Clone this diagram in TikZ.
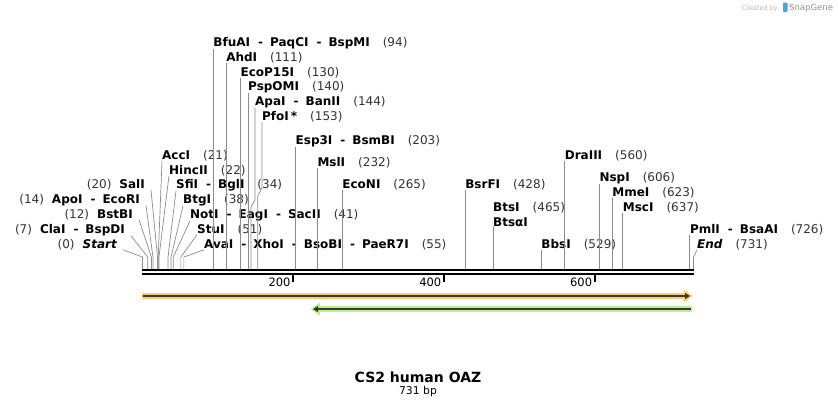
\documentclass[tikz,border=0pt]{standalone}
\usepackage{fontspec}
\setmainfont{DejaVu Sans}
\usetikzlibrary{arrows.meta}
\definecolor{leadgray}{HTML}{8C8C8C}
\definecolor{numgray}{HTML}{333333}
\definecolor{orangehl}{HTML}{FBCB74}
\definecolor{greenhl}{HTML}{B9F28C}
\definecolor{featline}{HTML}{3A3A30}
\definecolor{logogray}{HTML}{B4B4B4}
\definecolor{logoblue}{HTML}{4AA3DF}
\newcommand{\dsh}{\hspace{8pt}-\hspace{7pt}}
\newcommand{\pos}[1]{\hspace{13pt}{\mdseries\upshape\color{numgray}(#1)}}
\newcommand{\posl}[1]{{\mdseries\upshape\color{numgray}(#1)}\hspace{8pt}}
\tikzset{
  enz/.style={font=\bfseries\fontsize{12}{13}\selectfont, inner sep=0pt, anchor=base west},
  enzl/.style={enz, anchor=base east},
  leader/.style={draw=leadgray, line width=0.7pt},
  ticklbl/.style={font=\fontsize{11.5}{13}\selectfont, inner sep=0pt, anchor=base east}
}
\begin{document}
\begin{tikzpicture}[x=1pt,y=-1pt]
  \useasboundingbox (0,0) rectangle (838,408);
  % sites on the sequence
  \foreach \n in {0,7,12,14,20,21,22,34,38,41,51,55,94,111,130,140,144,153,203,232,265,428,465,529,560,606,623,637,726,731}
    \coordinate (s\n) at ({142.4+0.754*\n},269);

  % sequence bar and ruler
  \draw[line width=2pt] (142.4,270.2) -- (693.7,270.2);
  \draw[line width=2pt] (142.4,274.3) -- (693.7,274.3);
  \foreach \t in {200,400,600}{
    \draw[line width=1.6pt] ({142.4+0.754*\t},275) -- ++(0,7);
    \node[ticklbl] at ({142.4+0.754*\t-2.5},286) {\t};
  }

  % features
  \fill[orangehl] (142.4,293.2) rectangle (686,298.8);
  \fill[orangehl] (684,289.5) -- (692.5,296) -- (684,302.5) -- cycle;
  \draw[featline, line width=1.5pt, -{Triangle[length=5pt,width=6pt]}] (143,296) -- (690,296);
  \fill[greenhl] (318,306.3) rectangle (692,311.9);
  \fill[greenhl] (320,302.6) -- (310.5,309.1) -- (320,315.6) -- cycle;
  \draw[featline, line width=1.5pt, -{Triangle[length=5pt,width=6pt]}] (690.5,309.1) -- (313,309.1);

  % enzymes above the sequence
  \node[enz] (bfuai) at (s94 |- 0,46) {BfuAI\dsh PaqCI\dsh BspMI\pos{94}};
  \node[enz] (ahdi) at (s111 |- 0,61) {AhdI\pos{111}};
  \node[enz] (ecop) at (s130 |- 0,76) {EcoP15I\pos{130}};
  \node[enz] (pspomi) at (s140 |- 0,90) {PspOMI\pos{140}};
  \node[enz] (apai) at (255,105) {ApaI\dsh BanII\pos{144}};
  \node[enz] (pfoi) at (262,120) {PfoI\,*\pos{153}};
  \node[enz] (esp) at (s203 |- 0,144) {Esp3I\dsh BsmBI\pos{203}};
  \node[enz] (msli) at (s232 |- 0,166) {MslI\pos{232}};
  \node[enz] (econi) at (s265 |- 0,188) {EcoNI\pos{265}};
  \node[enz] (bsrfi) at (s428 |- 0,188) {BsrFI\pos{428}};
  \node[enz] (btsi) at (s465 |- 0,211) {BtsI\pos{465}};
  \node[enz] (btsai) at (s465 |- 0,226) {BtsαI};
  \node[enz] (bbsi) at (s529 |- 0,248) {BbsI\pos{529}};
  \node[enz] (draiii) at (s560 |- 0,159) {DraIII\pos{560}};
  \node[enz] (nspi) at (s606 |- 0,181) {NspI\pos{606}};
  \node[enz] (mmei) at (s623 |- 0,196) {MmeI\pos{623}};
  \node[enz] (msci) at (s637 |- 0,211) {MscI\pos{637}};
  \node[enz] (pmli) at (s726 |- 0,233) {PmlI\dsh BsaAI\pos{726}};
  \node[enz] (end) at (697,248) {\itshape End\pos{731}};

  \node[enz] (acci) at (162,159) {AccI\pos{21}};
  \node[enz] (hincii) at (169,174) {HincII\pos{22}};
  \node[enz] (sfii) at (176,188) {SfiI\dsh BglI\pos{34}};
  \node[enz] (btgi) at (183,203) {BtgI\pos{38}};
  \node[enz] (noti) at (190,218) {NotI\dsh EagI\dsh SacII\pos{41}};
  \node[enz] (stui) at (197,233) {StuI\pos{51}};
  \node[enz] (avai) at (204,248) {AvaI\dsh XhoI\dsh BsoBI\dsh PaeR7I\pos{55}};

  \node[enzl] (sali) at (145,188) {\posl{20}SalI};
  \node[enzl] (apoi) at (140,203) {\posl{14}ApoI\dsh EcoRI};
  \node[enzl] (bstbi) at (133,218) {\posl{12}BstBI};
  \node[enzl] (clai) at (125,233) {\posl{7}ClaI\dsh BspDI};
  \node[enzl] (start) at (117,248) {\posl{0}\itshape Start};

  % leaders
  \foreach \lbl/\n in {bfuai/94,ahdi/111,ecop/130,pspomi/140,esp/203,msli/232,econi/265,bsrfi/428,btsai/465,bbsi/529,draiii/560,nspi/606,mmei/623,msci/637,pmli/726}
    \draw[leader] (\lbl.south west) -- (s\n);
  \draw[leader] (apai.south west) -- (apai.south west |- 0,200) -- (s144 |- 0,207) -- (s144);
  \draw[leader] (pfoi.south west) -- (pfoi.south west |- 0,188) -- (s153 |- 0,196) -- (s153);
  \foreach \lbl/\n in {acci/21,hincii/22,sfii/34,btgi/38,noti/41,stui/51,avai/55,end/731}
    \draw[leader] (\lbl.south west) -- (s\n |- 0,257) -- (s\n);
  \foreach \lbl/\n in {sali/20,apoi/14,bstbi/12,clai/7,start/0}
    \draw[leader] ([xshift=6pt]\lbl.south east) -- (s\n |- 0,257) -- (s\n);

  % title
  \node[font=\bfseries\fontsize{14}{16}\selectfont] (title) at (418,377) {CS2 human OAZ};
  \node[font=\fontsize{10.8}{12}\selectfont] (len) at (418,392) {731 bp};

  % logo
  \node[font=\fontsize{6.5}{8}\selectfont, text=logogray, inner sep=0pt, anchor=base east] (created) at (778,10) {Created by};
  \fill[logoblue, rounded corners=0.8pt] (783,2.5) rectangle (787.5,12);
  \node[font=\fontsize{8.5}{10}\selectfont, text=logogray!80!black, inner sep=0pt, anchor=base west] (snapgene) at (789,10.5) {SnapGene};
\end{tikzpicture}
\end{document}
